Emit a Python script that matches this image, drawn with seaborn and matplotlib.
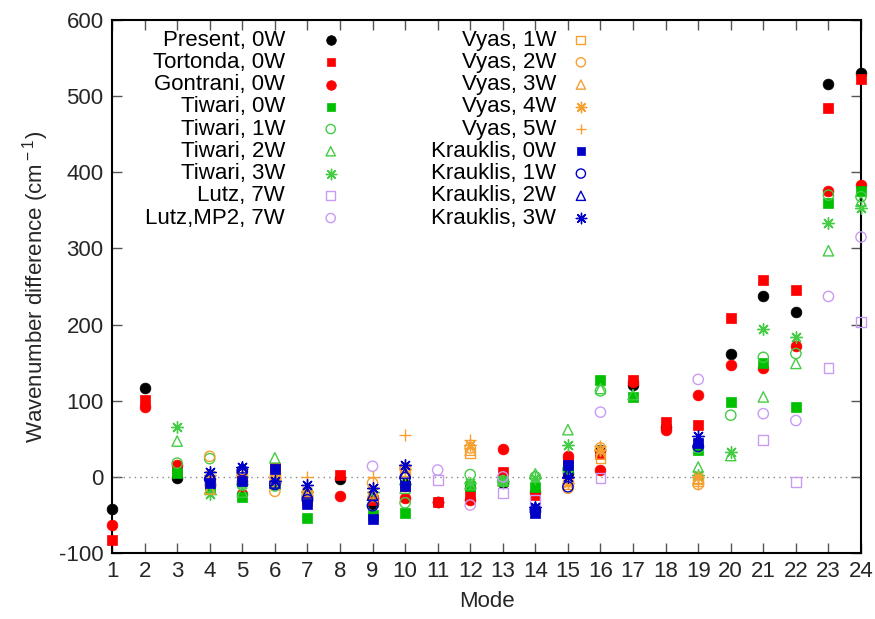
import numpy as np
import matplotlib
matplotlib.use("Agg")
import matplotlib.pyplot as plt
import seaborn as sns

nan = np.nan

# -----------------------------------------
# data: wavenumber difference per mode (cm-1)
# -----------------------------------------
modes = list(range(1, 25))

present_0w = [-42, 117, -1, -10, -5, -8, -25, -3, -35, -10, -33, -15,
              -8, -45, 5, 35, 121, 66, 40, 161, 238, 216, 516, 530]
tortonda_0w = [-83, 101, 10, -8, -3, 12, -30, 2, -30, -12, -33, -25,
               7, -24, 20, 30, 127, 72, 68, 209, 259, 245, 484, 522]
gontrani_0w = [-63, 92, 15, -12, -23, -5, -30, -25, -28, -28, -33, -30,
               36, -20, 27, 9, 125, 62, 107, 147, 143, 172, 375, 384]
tiwari_0w = [nan, nan, 5, -15, -26, -10, -54, nan, -50, -48, nan, -12,
             -6, -13, 12, 127, 105, nan, 35, 98, 150, 92, 360, 375]
tiwari_1w = [nan, nan, 18, 24, -10, -12, -25, nan, -38, -34, nan, 3,
             -5, 0, 10, 113, nan, nan, 38, 81, 157, 162, 370, 368]
tiwari_2w = [nan, nan, 47, -16, -20, 25, -22, nan, -24, -15, nan, -10,
             -5, 4, 62, 116, 108, nan, 13, 28, 105, 149, 297, 362]
tiwari_3w = [nan, nan, 65, -23, -10, -5, -20, nan, -20, -10, nan, -8,
             -5, -2, 42, 35, nan, nan, 2, 33, 194, 184, 333, 353]
lutz_7w = [nan, nan, nan, nan, nan, nan, nan, nan, nan, nan, -4, nan,
           -21, -30, nan, -1, nan, nan, nan, nan, 48, -7, 143, 203]
lutz_mp2_7w = [nan, nan, nan, nan, nan, nan, nan, nan, 14, nan, 9, -37,
               0, nan, nan, 85, nan, nan, 128, nan, 83, 74, 237, 315]
vyas_1w = [nan, nan, nan, -5, 5, 0, -25, nan, -25, 8, nan, 31,
           nan, nan, -10, 25, nan, nan, -5, nan, nan, nan, nan, nan]
vyas_2w = [nan, nan, nan, 27, 3, -19, -20, nan, -8, 12, nan, 38,
           nan, nan, -15, 38, nan, nan, -10, nan, nan, nan, nan, nan]
vyas_3w = [nan, nan, nan, -16, 8, -3, -23, nan, -21, 5, nan, 35,
           nan, nan, -6, 30, nan, nan, -3, nan, nan, nan, nan, nan]
vyas_4w = [nan, nan, nan, 2, 0, -2, -18, nan, -15, 10, nan, 42,
           nan, nan, -8, 35, nan, nan, 0, nan, nan, nan, nan, nan]
vyas_5w = [nan, nan, nan, -3, 10, 3, 0, nan, 0, 55, nan, 48,
           nan, nan, -2, 40, nan, nan, -8, nan, nan, nan, nan, nan]
krauklis_0w = [nan, nan, nan, -8, -6, 10, -35, nan, -55, -12, nan, nan,
               nan, -47, 16, nan, nan, nan, 44, nan, nan, nan, nan, nan]
krauklis_1w = [nan, nan, nan, -3, 8, -10, -30, nan, -38, -1, nan, nan,
               nan, -43, -13, nan, nan, nan, 40, nan, nan, nan, nan, nan]
krauklis_2w = [nan, nan, nan, 3, 12, -8, -21, nan, -24, 5, nan, nan,
               nan, -40, 5, nan, nan, nan, 46, nan, nan, nan, nan, nan]
krauklis_3w = [nan, nan, nan, 6, 13, -5, -11, nan, -14, 16, nan, nan,
               nan, -39, 0, nan, nan, nan, 54, nan, nan, nan, nan, nan]

# -----------------------------------------
# styles (gnuplot-like point types)
# -----------------------------------------
BLACK, RED, GREEN, LGREEN = "#000000", "#ff0000", "#00c000", "#44cc44"
PURPLE, ORANGE, BLUE = "#c89cf5", "#f5a030", "#0000c8"
ASTER = (8, 2, 0)

# label, values, marker, colour, filled, size
series = [
    ("Present, 0W", present_0w, "o", BLACK, True, 60),
    ("Tortonda, 0W", tortonda_0w, "s", RED, True, 52),
    ("Gontrani, 0W", gontrani_0w, "o", RED, True, 60),
    ("Tiwari, 0W", tiwari_0w, "s", GREEN, True, 52),
    ("Tiwari, 1W", tiwari_1w, "o", LGREEN, False, 55),
    ("Tiwari, 2W", tiwari_2w, "^", LGREEN, False, 55),
    ("Tiwari, 3W", tiwari_3w, ASTER, LGREEN, False, 70),
    ("Lutz, 7W", lutz_7w, "s", PURPLE, False, 50),
    ("Lutz,MP2, 7W", lutz_mp2_7w, "o", PURPLE, False, 55),
    ("Vyas, 1W", vyas_1w, "s", ORANGE, False, 50),
    ("Vyas, 2W", vyas_2w, "o", ORANGE, False, 55),
    ("Vyas, 3W", vyas_3w, "^", ORANGE, False, 55),
    ("Vyas, 4W", vyas_4w, ASTER, ORANGE, False, 70),
    ("Vyas, 5W", vyas_5w, "+", ORANGE, False, 70),
    ("Krauklis, 0W", krauklis_0w, "s", BLUE, True, 52),
    ("Krauklis, 1W", krauklis_1w, "o", BLUE, False, 55),
    ("Krauklis, 2W", krauklis_2w, "^", BLUE, False, 55),
    ("Krauklis, 3W", krauklis_3w, ASTER, BLUE, False, 70),
]


def marker_kws(marker, colour, filled, size):
    kws = dict(marker=marker, s=size, clip_on=False, zorder=3)
    if filled:
        kws.update(color=colour, edgecolor=colour, linewidth=0.5)
    elif marker in ("+", ASTER):
        kws.update(color=colour, linewidth=1.0)
    else:
        kws.update(color="none", edgecolor=colour, linewidth=1.0)
    return kws


sns.set_theme(style="ticks")
plt.rcParams["font.family"] = ["Liberation Sans", "DejaVu Sans"]
plt.rcParams["mathtext.fontset"] = "custom"
plt.rcParams["mathtext.rm"] = "Liberation Sans"
plt.rcParams["axes.unicode_minus"] = False

fig = plt.figure(figsize=(8.75, 6.19), dpi=100)
ax = fig.add_axes([0.128, 0.1066, 0.856, 0.861])

ax.axhline(0, color="#888888", linestyle=(0, (1, 3)), linewidth=1, zorder=1)

for label, vals, marker, colour, filled, size in series:
    sns.scatterplot(x=modes, y=vals, ax=ax, legend=False,
                    **marker_kws(marker, colour, filled, size))

# gnuplot-style legend: right-aligned text, marker on the right
row_top, row_step = 0.9625, 0.04175
col_text = [0.231, 0.593]
col_mark = [0.292, 0.626]
for i, (label, vals, marker, colour, filled, size) in enumerate(series):
    col, row = divmod(i, 9)
    y = row_top - row * row_step
    ax.text(col_text[col], y, label, transform=ax.transAxes,
            ha="right", va="center", fontsize=16, color="black")
    ax.scatter([col_mark[col]], [y], transform=ax.transAxes,
               **marker_kws(marker, colour, filled, size * 0.8))

ax.set_xlim(1, 24)
ax.set_ylim(-100, 600)
ax.set_xticks(modes)
ax.set_yticks(range(-100, 601, 100))
ax.tick_params(direction="in", length=7, width=1, color="#555555",
               labelsize=16, top=True, right=True, pad=6)
for sp in ax.spines.values():
    sp.set_linewidth(1.5)
    sp.set_color("black")

ax.set_xlabel("Mode", fontsize=16, labelpad=6)
ax.set_ylabel("Wavenumber difference (cm$^{\\rm -1}$)", fontsize=16, labelpad=6)

fig.savefig("out.png", dpi=100)
